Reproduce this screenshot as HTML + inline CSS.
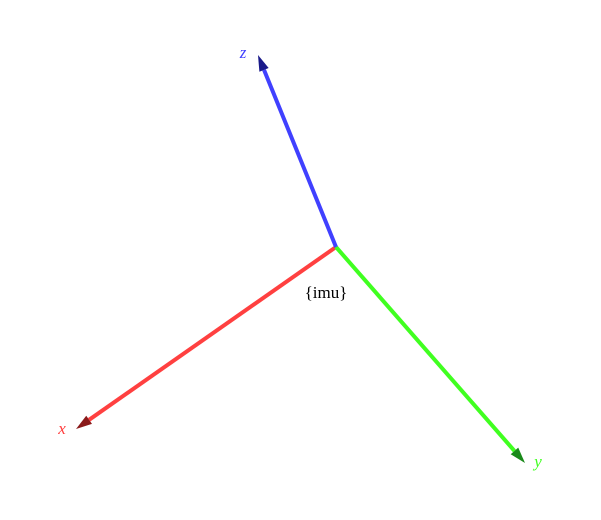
<!DOCTYPE html>
<html><head><meta charset="utf-8"><style>
html,body{margin:0;padding:0;background:#fff;width:601px;height:520px;overflow:hidden}
svg{display:block}
text{font-family:"Liberation Serif",serif}
</style></head><body>
<svg id="chart" width="601" height="520" viewBox="0 0 601 520"></svg>
<script>
const axisNames = ['x','y','z'];
const axisDx = [-260, 189, -78];
const axisDy = [182, 216, -192];
const axisColors = ['#ff4040','#40ff20','#4040ff'];
const headColors = ['#8a1a1a','#1a8a1a','#1a1a8a'];
const frameLabel = '{imu}';
const origin = [336, 247];
const NS='http://www.w3.org/2000/svg';
const svg=document.getElementById('chart');
function mk(t,a){const e=document.createElementNS(NS,t);for(const k in a)e.setAttribute(k,a[k]);svg.appendChild(e);return e;}
const labOffX=[-14,13,-15];
const labOffY=[5,4,3];
for(let i=0;i<axisNames.length;i++){
  const tx=origin[0]+axisDx[i], ty=origin[1]+axisDy[i];
  const L=Math.hypot(axisDx[i],axisDy[i]); const ux=axisDx[i]/L, uy=axisDy[i]/L;
  const hl=16, hw=5;
  const bx=tx-ux*hl, by=ty-uy*hl;
  const line=mk('line',{x1:origin[0],y1:origin[1],x2:bx,y2:by,stroke:axisColors[i],'stroke-width':4});
  
  
  const head=mk('polygon',{points:`${tx},${ty} ${bx-uy*hw},${by+ux*hw} ${bx+uy*hw},${by-ux*hw}`,fill:headColors[i]});
  
  
  const lab=mk('text',{x:tx+labOffX[i],y:ty+labOffY[i],fill:axisColors[i],'font-size':17,'font-style':'italic','text-anchor':'middle'});
  lab.textContent=axisNames[i];
  
  
}
const fl=mk('text',{x:326,y:298,fill:'#000','font-size':17,'text-anchor':'middle'});
fl.textContent=frameLabel;


</script>
</body></html>
